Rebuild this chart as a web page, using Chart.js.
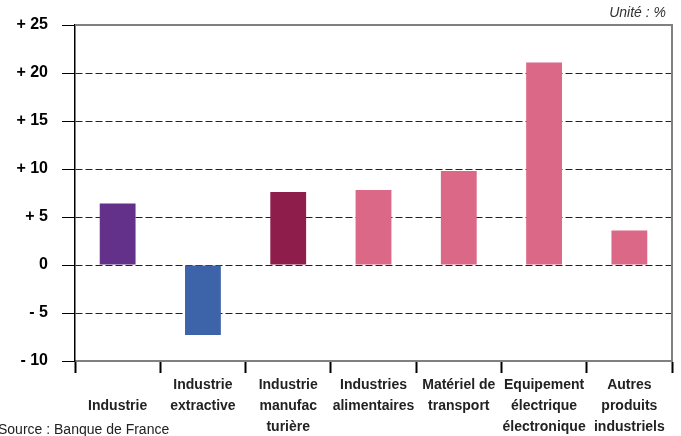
<!DOCTYPE html>
<html>
<head>
<meta charset="utf-8">
<script src="https://cdn.jsdelivr.net/npm/chart.js@4/dist/chart.umd.min.js"></script>
<style>
  body { margin: 0; background: #fff; }
  #wrap { position: relative; width: 681px; height: 436px; overflow: hidden; }
  #unite { position: absolute; right: 15px; top: 4px; font: italic 14px Arial, "Liberation Sans", sans-serif; color: #333; }
  #source { position: absolute; left: -2px; top: 421px; font: 14px Arial, "Liberation Sans", sans-serif; color: #222; }
</style>
</head>
<body>
<div id="wrap">
  <canvas id="myChart" width="681" height="436"></canvas>
  <div id="unite">Unité : %</div>
  <div id="source">Source : Banque de France</div>
</div>
<script>
// categories (one array per label, one entry per line)
const categories = [
  ['', 'Industrie'],
  ['Industrie', 'extractive'],
  ['Industrie', 'manufac', 'turière'],
  ['Industries', 'alimentaires'],
  ['Matériel de', 'transport'],
  ['Equipement', 'électrique', 'électronique'],
  ['Autres', 'produits', 'industriels']
];
const values = [6.4, -7.3, 7.6, 7.8, 9.8, 21.1, 3.6];
const barColors = ['#633189', '#3D63A9', '#8F1D4B', '#DB6886', '#DB6886', '#DB6886', '#DB6886'];
const yTickValues = [-10, -5, 0, 5, 10, 15, 20, 25];
const yTickLabels = ['- 10', '- 5', '0', '+ 5', '+ 10', '+ 15', '+ 20', '+ 25'];

// top and right grey frame
const framePlugin = {
  id: 'frame',
  afterDraw(chart) {
    const { ctx, chartArea } = chart;
    ctx.save();
    ctx.strokeStyle = '#808080';
    ctx.lineWidth = 2;
    ctx.beginPath();
    ctx.moveTo(chartArea.left, chartArea.top);
    ctx.lineTo(chartArea.right, chartArea.top);
    ctx.lineTo(chartArea.right, chartArea.bottom);
    ctx.stroke();
    ctx.restore();
  }
};

const myChart = document.getElementById('myChart');
new Chart(myChart, {
  type: 'bar',
  data: {
    labels: categories,
    datasets: [{
      data: values,
      backgroundColor: barColors,
      barPercentage: 0.42,
      categoryPercentage: 1
    }]
  },
  options: {
    responsive: false,
    animation: false,
    layout: { padding: { top: 25, right: 9, left: 0, bottom: 0 } },
    plugins: { legend: { display: false }, tooltip: { enabled: false } },
    scales: {
      x: {
        afterFit: (scale) => { scale.height = 75; },
        grid: { offset: true, drawOnChartArea: false, tickLength: 12, tickColor: '#000', tickWidth: 2 },
        border: { color: '#808080', width: 2 },
        ticks: {
          maxRotation: 0,
          autoSkip: false,
          padding: 2,
          color: '#222',
          font: { family: 'Arial, "Liberation Sans", sans-serif', size: 14, weight: 'bold', lineHeight: 1.5 }
        }
      },
      y: {
        min: -10,
        max: 25,
        afterFit: (scale) => { scale.width = 75; },
        afterBuildTicks: (scale) => { scale.ticks = yTickValues.map(v => ({ value: v })); },
        grid: {
          color: (c) => (c.tick && (c.tick.value === 25 || c.tick.value === -10)) ? 'rgba(0,0,0,0)' : '#222',
          lineWidth: 1,
          tickLength: 13,
          tickColor: '#000',
          tickWidth: 1
        },
        border: { color: '#000', width: 1.5, dash: [7, 3] },
        ticks: {
          padding: 14,
          color: '#000',
          font: { family: 'Arial, "Liberation Sans", sans-serif', size: 16, weight: 'bold' },
          callback: (v) => yTickLabels[yTickValues.indexOf(v)]
        }
      }
    }
  },
  plugins: [framePlugin]
});
</script>
</body>
</html>
